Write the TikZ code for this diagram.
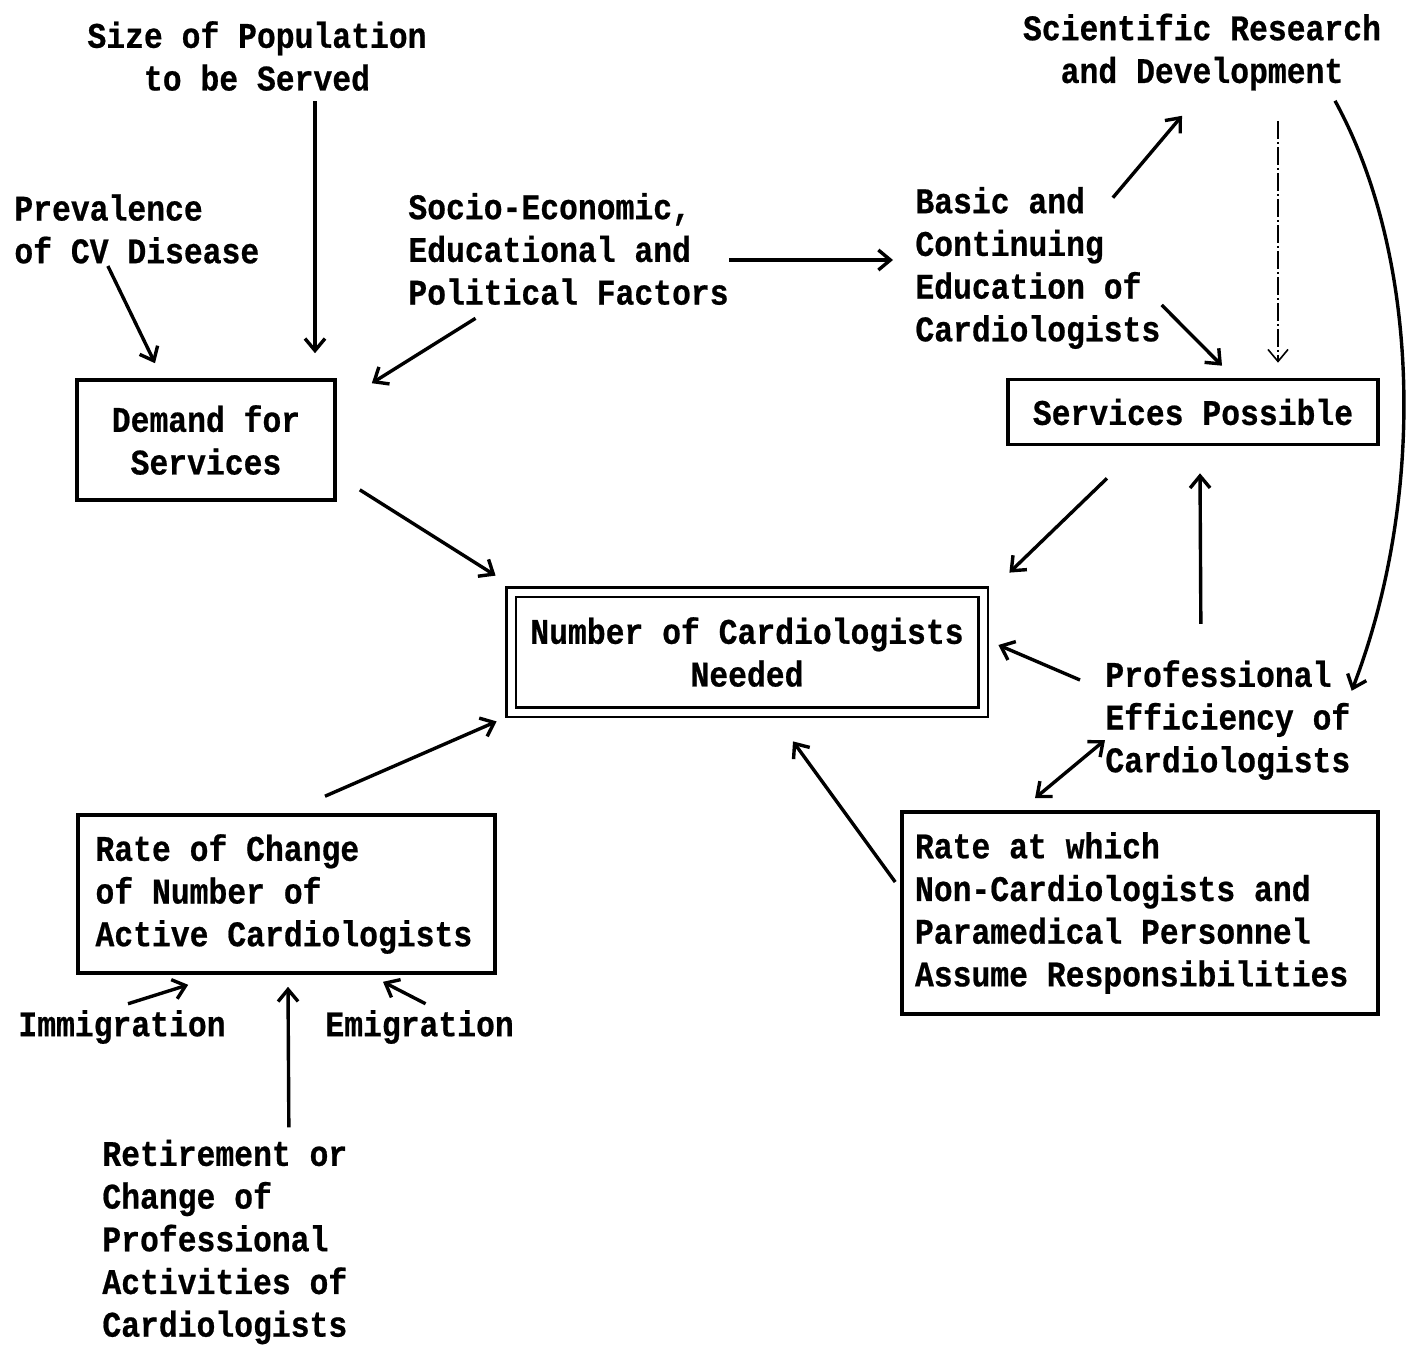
\documentclass[tikz,border=0pt]{standalone}
\usepackage{fontspec}
\setmainfont{Liberation Mono}[FakeStretch=0.872, BoldFeatures={FakeBold=0.6}]
\usetikzlibrary{arrows.meta,calc}
\begin{document}
\begin{tikzpicture}[x=0.5pt,y=-0.5pt,
  every node/.style={font=\fontsize{18pt}{21.35pt}\selectfont\bfseries, inner sep=0pt,
    execute at begin node={\spaceskip=0.5232em\relax\hyphenpenalty=10000\relax}},
  txt/.style={align=left},
  ctxt/.style={align=center},
  box/.style={draw, line width=1.8pt},
  dbox/.style={draw, double, double distance=3.5pt, line width=1.4pt},
  >={Straight Barb[length=6pt,width=10pt]},
  arr/.style={line width=1.7pt, ->},
  darr/.style={line width=1.7pt, <->},
  dotarr/.style={line width=0.8pt, dash pattern=on 9pt off 1.5pt on 1pt off 1.5pt, ->}]
\useasboundingbox (0,0) rectangle (1406,1344);

% text nodes
\node[ctxt] (size) at (257,56) {Size of Population\\to be Served};
\node[txt,anchor=west] (prev) at (14,229) {Prevalence\\of CV Disease};
\node[txt,anchor=west] (socio) at (408,249) {Socio-Economic,\\Educational and\\Political Factors};
\node[txt,anchor=west] (basic) at (915,268) {Basic and\\Continuing\\Education of\\Cardiologists};
\node[ctxt] (sci) at (1202,52) {Scientific Research\\and Development};
\node[txt,anchor=west] (prof) at (1105,720) {Professional\\Efficiency of\\Cardiologists};
\node[anchor=west] (immig) at (18,1027) {Immigration};
\node[anchor=west] (emig) at (325,1027) {Emigration};
\node[txt,anchor=west] (retire) at (102,1242) {Retirement or\\Change of\\Professional\\Activities of\\Cardiologists};

% boxes
\node[box,ctxt,minimum width=129pt,minimum height=60pt] (demand) at (206,440) {Demand for\\Services};
\node[box,minimum width=185pt,minimum height=32.5pt] (serv) at (1193,412) {Services Possible};
\node[dbox,ctxt,minimum width=236pt,minimum height=60pt] (num) at (747,652) {Number of Cardiologists\\Needed};
\node[box,txt,text width=191pt,inner xsep=8.75pt,minimum height=79pt] (rate) at (286.5,894) {Rate of Change\\of Number of\\Active Cardiologists};
\node[box,txt,text width=225pt,inner xsep=6.5pt,minimum height=101pt] (rateat) at (1140,913) {Rate at which\\Non-Cardiologists and\\Paramedical Personnel\\Assume Responsibilities};

% connectors
\draw[arr] ($(size.south)+(58,10)$) -- ($(demand.north)+(109,-25)$);
\draw[arr] ($(prev.south)+(-29,2)$) -- ($(demand.north)+(-51,-15)$);
\draw[arr] ($(socio.south)+(-93,13)$) -- ($(demand.north east)+(35,5)$);
\draw[arr] ($(socio.east)+(0,11)$) -- ($(basic.west)+(-22,-8)$);
\draw[arr] ($(basic.north)+(75,11)$) -- ($(sci.south)+(-20,25)$);
\draw[arr] ($(basic.east)+(1,37)$) -- ($(serv.north)+(29,-12)$);
\draw[dotarr] ($(sci.south)+(76,30)$) -- ($(serv.north)+(85,-15)$);
\draw[arr] ($(sci.south)+(133,10)$) .. controls +(85,155) and +(75,-195) .. ($(prof.north east)+(1,31)$);
\draw[arr] ($(demand.south east)+(23,-12)$) -- ($(num.north west)+(-14,-15)$);
\draw[arr] ($(serv.south)+(-86,32)$) -- ($(num.north east)+(25,-18)$);
\draw[arr] ($(prof.north)+(-27,-36)$) -- ($(serv.south)+(7,27)$);
\draw[arr] ($(prof.west)+(-25,-40)$) -- ($(num.east)+(14,-7)$);
\draw[darr] ($(prof.west)+(0,20)$) -- ($(rateat.north)+(-105,-12)$);
\draw[arr] ($(rateat.west)+(-5,-31)$) -- ($(num.south)+(46,28)$);
\draw[arr] ($(rate.north)+(38.5,-17)$) -- ($(num.south west)+(-13,8)$);
\draw[arr] ($(immig.north)+(6,-6)$) -- ($(rate.south west)+(112,10)$);
\draw[arr] ($(emig.north)+(6,-6)$) -- ($(rate.south)+(96.5,7)$);
\draw[arr] ($(retire.north)+(64,-12)$) -- ($(rate.south)+(1.5,12)$);
\end{tikzpicture}
\end{document}
